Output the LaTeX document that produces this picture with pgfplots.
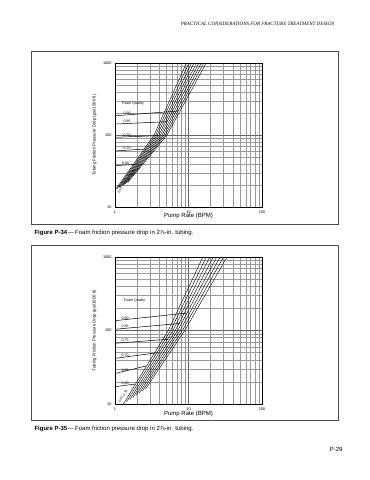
\documentclass[border=0pt]{standalone}
\usepackage{fontspec}
\setmainfont{Liberation Sans}
\newfontfamily\seriffont{Liberation Serif}
\usepackage{pgfplots}
\pgfplotsset{compat=1.18}
\begin{document}
\begin{tikzpicture}[x=1pt,y=1pt]
\path[use as bounding box] (0,0) rectangle (370,480);
\node[anchor=base east, font=\seriffont\itshape\fontsize{5}{6}\selectfont] at (338,454) {PRACTICAL CONSIDERATIONS FOR FRACTURE TREATMENT DESIGN};
\draw[line width=0.8pt, black!70] (31,256) rectangle (338,429);
\draw[line width=0.8pt, black!70] (31,60) rectangle (338,235);
\node[anchor=base west, font=\fontsize{6}{7}\selectfont] at (31,245.5) {\textbf{Figure P-34}\,—\,Foam friction pressure drop in 2⅞-in. tubing.};
\node[anchor=base west, font=\fontsize{6}{7}\selectfont] at (31,49.5) {\textbf{Figure P-35}\,—\,Foam friction pressure drop in 2⅞-in. tubing.};
\node[anchor=base east, font=\fontsize{6}{7}\selectfont] at (346,28) {P-29};

% ---------------- Figure 1 ----------------
\begin{axis}[
  xmode=log, ymode=log, xmin=1, xmax=100, ymin=10, ymax=1000,
  scale only axis, width=147pt, height=144pt, at={(115pt,273pt)}, anchor=south west,
  xtick={1,10,100}, xticklabels={1,10,100},
  ytick={10,100,1000}, yticklabels={10,100,1000},
  minor xtick={2,3,4,5,6,7,8,9,20,30,40,50,60,70,80,90},
  minor ytick={20,30,40,50,60,70,80,90,200,300,400,500,600,700,800,900},
  grid=both,
  major grid style={black!60, line width=0.35pt},
  minor grid style={black!40, line width=0.25pt},
  axis line style={line width=0.7pt},
  major tick length=0pt, minor tick length=0pt,
  ticklabel style={font=\fontsize{3.8}{4}\selectfont},
  xlabel={Pump Rate (BPM)},
  ylabel={Tubing Friction Pressure Drop (psi/1000 ft)},
  xlabel style={font=\fontsize{6}{7}\selectfont, at={(axis description cs:0.5,-0.065)}, anchor=center},
  ylabel style={font=\fontsize{4.3}{5}\selectfont, at={(axis description cs:-0.14,0.5)}, anchor=center},
]
\addplot[black, line width=0.4pt] coordinates {(1.020,17.5) (3.40,100) (9.40,1000)};
\addplot[black, line width=0.4pt] coordinates {(1.071,18.0) (3.58,100) (10.15,1000)};
\addplot[black, line width=0.4pt] coordinates {(1.125,18.6) (3.76,100) (10.96,1000)};
\addplot[black, line width=0.4pt] coordinates {(1.181,19.1) (3.96,100) (11.84,1000)};
\addplot[black, line width=0.4pt] coordinates {(1.240,19.7) (4.16,100) (12.79,1000)};
\addplot[black, line width=0.4pt] coordinates {(1.302,20.3) (4.38,100) (13.81,1000)};
\addplot[black, line width=0.4pt] coordinates {(1.367,20.9) (4.61,100) (14.92,1000)};
\addplot[black, line width=0.4pt] coordinates {(1.435,21.5) (4.85,100) (16.11,1000)};
\addplot[black, line width=0.4pt] coordinates {(1.507,22.2) (5.10,100) (17.40,1000)};
\addplot[black, line width=0.5pt] coordinates {(1,185) (7.22,215)};
\addplot[black, line width=0.5pt] coordinates {(1,142) (5.12,153)};
\addplot[black, line width=0.5pt] coordinates {(1,93) (3.90,98)};
\addplot[black, line width=0.5pt] coordinates {(1,60) (2.73,64)};
\addplot[black, line width=0.5pt] coordinates {(1,37.5) (1.84,39)};
\node[font=\fontsize{3.6}{4}\selectfont, anchor=west] at (axis cs:1.12,270) {Foam Quality};
\node[font=\fontsize{3.6}{4}\selectfont, anchor=south west, inner sep=0.6pt] at (axis cs:1.28,188) {0.90};
\node[font=\fontsize{3.6}{4}\selectfont, anchor=south west, inner sep=0.6pt] at (axis cs:1.28,144) {0.85};
\node[font=\fontsize{3.6}{4}\selectfont, anchor=south west, inner sep=0.6pt] at (axis cs:1.28,94) {0.75};
\node[font=\fontsize{3.6}{4}\selectfont, anchor=south west, inner sep=0.6pt] at (axis cs:1.28,61) {0.70};
\node[font=\fontsize{3.6}{4}\selectfont, anchor=south west, inner sep=0.6pt] at (axis cs:1.22,38) {0.65};
\node[font=\fontsize{3.2}{4}\selectfont, rotate=60, inner sep=0pt] at (axis cs:1.78,31) {0.60};
\node[font=\fontsize{3.2}{4}\selectfont, rotate=60, inner sep=0pt] at (axis cs:1.56,26) {0.55};
\node[font=\fontsize{3.2}{4}\selectfont, rotate=60, inner sep=0pt] at (axis cs:1.37,21.5) {0.50};
\node[font=\fontsize{3.2}{4}\selectfont, rotate=60, inner sep=0pt] at (axis cs:1.17,17) {0.45};
\end{axis}

% ---------------- Figure 2 ----------------
\begin{axis}[
  xmode=log, ymode=log, xmin=1, xmax=100, ymin=10, ymax=1000,
  scale only axis, width=147pt, height=147pt, at={(115pt,76pt)}, anchor=south west,
  xtick={1,10,100}, xticklabels={1,10,100},
  ytick={10,100,1000}, yticklabels={10,100,1000},
  minor xtick={2,3,4,5,6,7,8,9,20,30,40,50,60,70,80,90},
  minor ytick={20,30,40,50,60,70,80,90,200,300,400,500,600,700,800,900},
  grid=both,
  major grid style={black!60, line width=0.35pt},
  minor grid style={black!40, line width=0.25pt},
  axis line style={line width=0.7pt},
  major tick length=0pt, minor tick length=0pt,
  ticklabel style={font=\fontsize{3.8}{4}\selectfont},
  xlabel={Pump Rate (BPM)},
  ylabel={Tubing Friction Pressure Drop (psi/1000 ft)},
  xlabel style={font=\fontsize{6}{7}\selectfont, at={(axis description cs:0.5,-0.065)}, anchor=center},
  ylabel style={font=\fontsize{4.3}{5}\selectfont, at={(axis description cs:-0.14,0.5)}, anchor=center},
]
\addplot[black, line width=0.4pt] coordinates {(1.300,10.0) (5.30,100) (15.70,1000)};
\addplot[black, line width=0.4pt] coordinates {(1.435,10.7) (5.71,100) (17.49,1000)};
\addplot[black, line width=0.4pt] coordinates {(1.585,11.4) (6.15,100) (19.48,1000)};
\addplot[black, line width=0.4pt] coordinates {(1.750,12.2) (6.62,100) (21.70,1000)};
\addplot[black, line width=0.4pt] coordinates {(1.932,13.1) (7.13,100) (24.17,1000)};
\addplot[black, line width=0.4pt] coordinates {(2.133,14.0) (7.68,100) (26.92,1000)};
\addplot[black, line width=0.4pt] coordinates {(2.355,15.0) (8.27,100) (29.99,1000)};
\addplot[black, line width=0.4pt] coordinates {(2.600,16.0) (8.90,100) (33.40,1000)};
\addplot[black, line width=0.5pt] coordinates {(1,136) (9.6,173)};
\addplot[black, line width=0.5pt] coordinates {(1,104) (7.7,125)};
\addplot[black, line width=0.5pt] coordinates {(1,67) (5.3,76)};
\addplot[black, line width=0.5pt] coordinates {(1,41.8) (3.9,50)};
\addplot[black, line width=0.5pt] coordinates {(1,26) (2.65,32.9)};
\addplot[black, line width=0.5pt] coordinates {(1,17.2) (1.9,18.7)};
\node[font=\fontsize{3.6}{4}\selectfont, anchor=west] at (axis cs:1.18,254) {Foam Quality};
\node[font=\fontsize{3.6}{4}\selectfont, anchor=south west, inner sep=0.6pt] at (axis cs:1.2,139) {0.90};
\node[font=\fontsize{3.6}{4}\selectfont, anchor=south west, inner sep=0.6pt] at (axis cs:1.2,106) {0.85};
\node[font=\fontsize{3.6}{4}\selectfont, anchor=south west, inner sep=0.6pt] at (axis cs:1.2,68.5) {0.75};
\node[font=\fontsize{3.6}{4}\selectfont, anchor=south west, inner sep=0.6pt] at (axis cs:1.2,43) {0.70};
\node[font=\fontsize{3.6}{4}\selectfont, anchor=south west, inner sep=0.6pt] at (axis cs:1.2,27) {0.65};
\node[font=\fontsize{3.6}{4}\selectfont, anchor=south west, inner sep=0.6pt] at (axis cs:1.2,17.7) {0.60};
\node[font=\fontsize{3.2}{4}\selectfont, rotate=60, inner sep=0pt] at (axis cs:1.38,14.2) {0.55};
\node[font=\fontsize{3.2}{4}\selectfont, rotate=60, inner sep=0pt] at (axis cs:1.2,11.6) {0.50};
\end{axis}
\end{tikzpicture}
\end{document}
